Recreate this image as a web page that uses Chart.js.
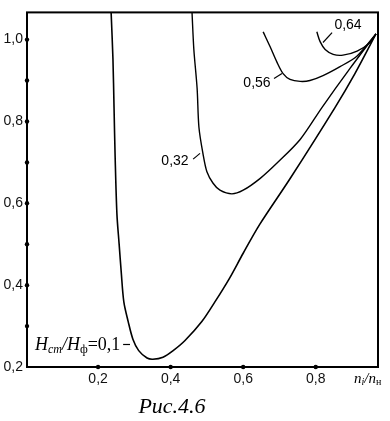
<!DOCTYPE html>
<html lang="ru">
<head>
    <meta charset="UTF-8">
    <title>Рис. 4.6</title>
    <script src="https://cdn.jsdelivr.net/npm/chart.js"></script>
    <style>
        html, body {
            margin: 0;
            padding: 0;
            background: #fff;
        }
        #wrap {
            width: 390px;
            height: 421px;
            position: relative;
        }
    </style>
</head>
<body>
    <div id="wrap"><canvas id="chart"></canvas></div>

    <script>
        // axis ranges and ticks
        const xRange = [0.0041, 0.9716];
        const yRange = [0.2, 1.0665];
        const xTicks = [0.2, 0.4, 0.6, 0.8];
        const yTicks = [0.3, 0.4, 0.5, 0.6, 0.7, 0.8, 0.9, 1.0];
        const yLabelled = [0.2, 0.4, 0.6, 0.8, 1.0];

        // curves (x = n_i/n_н, y)
        const curve010 = [
            [0.236, 1.066], [0.241, 0.953], [0.244, 0.834], [0.247, 0.715],
            [0.252, 0.573], [0.258, 0.501], [0.264, 0.430], [0.271, 0.359],
            [0.283, 0.311], [0.296, 0.268], [0.312, 0.240], [0.335, 0.222],
            [0.351, 0.219], [0.379, 0.224], [0.407, 0.240], [0.439, 0.264],
            [0.486, 0.311], [0.522, 0.359], [0.563, 0.418], [0.600, 0.478],
            [0.646, 0.549], [0.729, 0.660], [0.853, 0.834], [0.908, 0.917],
            [0.966, 1.014]
        ];
        const curve032 = [
            [0.459, 1.066], [0.464, 0.976], [0.473, 0.881], [0.478, 0.786],
            [0.489, 0.722], [0.500, 0.677], [0.517, 0.649], [0.536, 0.632],
            [0.569, 0.623], [0.600, 0.632], [0.647, 0.661], [0.694, 0.699],
            [0.757, 0.756], [0.817, 0.834], [0.894, 0.929], [0.966, 1.014]
        ];
        const curve056 = [
            [0.655, 1.019], [0.674, 0.983], [0.693, 0.945], [0.710, 0.917],
            [0.729, 0.903], [0.757, 0.898], [0.784, 0.900], [0.820, 0.912],
            [0.867, 0.934], [0.914, 0.960], [0.966, 1.014]
        ];
        const curve064 = [
            [0.803, 1.019], [0.812, 0.995], [0.826, 0.976], [0.848, 0.964],
            [0.875, 0.962], [0.914, 0.972], [0.950, 0.993], [0.966, 1.014]
        ];

        // curve labels: text, position and leader line, in data units
        const curveLabels = [
            { text: '0,64', x: 0.889, y: 1.036, from: [0.820, 0.993], to: [0.845, 1.017] },
            { text: '0,56', x: 0.638, y: 0.893, from: [0.685, 0.905], to: [0.707, 0.917] },
            { text: '0,32', x: 0.412, y: 0.703, from: [0.462, 0.708], to: [0.481, 0.722] }
        ];
        const mainLabel = { x: 0.026, y: 0.252, from: [0.269, 0.255], to: [0.288, 0.255] };

        const toPts = arr => arr.map(p => ({ x: p[0], y: p[1] }));
        const fmt = v => v.toFixed(1).replace('.', ',');

        // draws base text + subscript runs, returns new x
        function drawRuns(ctx, runs, x, y) {
            runs.forEach(r => {
                ctx.font = r.font;
                ctx.fillText(r.t, x, y + (r.dy || 0));
                x += ctx.measureText(r.t).width + (r.gap || 0);
            });
            return x;
        }

        const decor = {
            id: 'decor',
            afterDatasetsDraw(chart) {
                const { ctx, chartArea: a, scales: { x, y } } = chart;
                ctx.save();
                ctx.strokeStyle = '#000';
                ctx.fillStyle = '#000';

                // frame
                ctx.lineWidth = 2;
                ctx.strokeRect(a.left, a.top, a.right - a.left, a.bottom - a.top);

                // dot ticks
                yTicks.forEach(v => {
                    ctx.beginPath();
                    ctx.arc(a.left, y.getPixelForValue(v), 2.2, 0, Math.PI * 2);
                    ctx.fill();
                });
                xTicks.forEach(v => {
                    ctx.beginPath();
                    ctx.arc(x.getPixelForValue(v), a.bottom, 2.2, 0, Math.PI * 2);
                    ctx.fill();
                });

                // curve labels
                ctx.textBaseline = 'middle';
                ctx.textAlign = 'center';
                ctx.font = '14px "Liberation Sans", Arial, sans-serif';
                ctx.lineWidth = 1.2;
                curveLabels.forEach(l => {
                    ctx.fillText(l.text, x.getPixelForValue(l.x), y.getPixelForValue(l.y));
                    ctx.beginPath();
                    ctx.moveTo(x.getPixelForValue(l.from[0]), y.getPixelForValue(l.from[1]));
                    ctx.lineTo(x.getPixelForValue(l.to[0]), y.getPixelForValue(l.to[1]));
                    ctx.stroke();
                });

                // H_cm/H_ф=0,1
                ctx.textAlign = 'left';
                const it = 'italic 18px "Liberation Serif", serif';
                const itSub = 'italic 12px "Liberation Serif", serif';
                const up = '18px "Liberation Serif", serif';
                drawRuns(ctx, [
                    { t: 'H', font: it },
                    { t: 'cm', font: itSub, dy: 4 },
                    { t: '/', font: it },
                    { t: 'H', font: it },
                    { t: 'ф', font: '12px "Liberation Serif", serif', dy: 4 },
                    { t: '=0,1', font: up }
                ], x.getPixelForValue(mainLabel.x), y.getPixelForValue(mainLabel.y));
                ctx.beginPath();
                ctx.moveTo(x.getPixelForValue(mainLabel.from[0]), y.getPixelForValue(mainLabel.from[1]));
                ctx.lineTo(x.getPixelForValue(mainLabel.to[0]), y.getPixelForValue(mainLabel.to[1]));
                ctx.stroke();

                // axis title n_i/n_н
                drawRuns(ctx, [
                    { t: 'n', font: 'italic 15px "Liberation Serif", serif' },
                    { t: 'i', font: 'italic 10px "Liberation Serif", serif', dy: 3 },
                    { t: '/', font: 'italic 15px "Liberation Serif", serif' },
                    { t: 'n', font: 'italic 15px "Liberation Serif", serif' },
                    { t: 'н', font: '10px "Liberation Serif", serif', dy: 3 }
                ], 354, a.bottom + 12);

                // caption
                ctx.textAlign = 'center';
                ctx.font = 'italic 22px "Liberation Serif", serif';
                ctx.fillText('Рис.4.6', 172, 407);
                ctx.restore();
            }
        };

        const lineStyle = {
            borderColor: '#000',
            borderWidth: 1.4,
            pointRadius: 0,
            fill: false,
            showLine: true,
            tension: 0.3
        };

        new Chart(document.getElementById('chart'), {
            type: 'scatter',
            data: {
                datasets: [
                    { ...lineStyle, label: '0,1', data: toPts(curve010), borderWidth: 1.6 },
                    { ...lineStyle, label: '0,32', data: toPts(curve032) },
                    { ...lineStyle, label: '0,56', data: toPts(curve056) },
                    { ...lineStyle, label: '0,64', data: toPts(curve064) }
                ]
            },
            options: {
                responsive: true,
                maintainAspectRatio: false,
                animation: false,
                layout: { padding: { top: 2, right: 12, left: 0, bottom: 0 } },
                plugins: {
                    legend: { display: false },
                    tooltip: { enabled: false }
                },
                scales: {
                    x: {
                        type: 'linear',
                        min: xRange[0],
                        max: xRange[1],
                        grid: { display: false, drawTicks: false },
                        border: { display: false },
                        afterBuildTicks: s => { s.ticks = xTicks.map(v => ({ value: v })); },
                        afterFit: s => { s.height = 54; },
                        ticks: {
                            color: '#111',
                            padding: 4,
                            maxRotation: 0,
                            font: { family: '"Liberation Sans", Arial, sans-serif', size: 14 },
                            callback: v => fmt(v)
                        }
                    },
                    y: {
                        type: 'linear',
                        min: yRange[0],
                        max: yRange[1],
                        grid: { display: false, drawTicks: false },
                        border: { display: false },
                        afterBuildTicks: s => { s.ticks = yLabelled.map(v => ({ value: v })); },
                        afterFit: s => { s.width = 27; },
                        ticks: {
                            color: '#111',
                            padding: 4,
                            font: { family: '"Liberation Sans", Arial, sans-serif', size: 14 },
                            callback: v => fmt(v)
                        }
                    }
                }
            },
            plugins: [decor]
        });
    </script>
</body>
</html>
